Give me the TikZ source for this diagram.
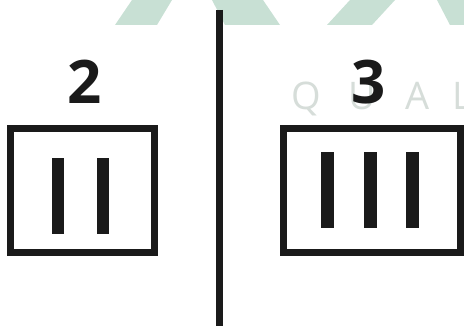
\documentclass[tikz,border=0pt]{standalone}
\usepackage{fontspec}
\setmainfont{Open Sans}
\definecolor{wmgreen}{RGB}{200,224,212}
\definecolor{wmgray}{RGB}{214,221,217}
\definecolor{ink}{RGB}{26,26,26}
\tikzset{
  frame/.style={draw=ink, line width=7pt},
  bar/.style={fill=ink, draw=none},
  digit/.style={font=\fontsize{60}{60}\selectfont\bfseries, text=ink, anchor=base, inner sep=0pt},
  wmletter/.style={font=\fontsize{38}{38}\selectfont, text=wmgray, anchor=base, inner sep=0pt},
  wmshape/.style={fill=wmgreen, draw=none}
}
\begin{document}
\begin{tikzpicture}[x=1pt,y=-1pt]
\useasboundingbox (0,0) rectangle (464,326);
\fill[white] (0,0) rectangle (464,326);
% watermark
\fill[wmshape] (115,25) -- (157,25) -- (172,0) -- (132,0) -- cycle;
\fill[wmshape] (225,25) -- (280,25) -- (263,0) -- (212,0) -- cycle;
\fill[wmshape] (327,25) -- (372,25) -- (395,0) -- (350,0) -- cycle;
\fill[wmshape] (450,25) -- (464,25) -- (464,0) -- (437,0) -- cycle;
\node[wmletter] (q) at (306,110) {Q};
\node[wmletter] (u) at (362,110) {U};
\node[wmletter] (a) at (417.5,110) {A};
\node[wmletter, anchor=base west] (l) at (452,110) {L};
% divider
\draw[ink, line width=7pt] (219.5,10) -- (219.5,326);
% left
\node[digit] (two) at (84.5,104) {2};
\draw[frame] (10.5,128.5) rectangle (154.5,252.5);
\fill[bar] (52,158) rectangle (64,234);
\fill[bar] (97,158) rectangle (109,234);
% right
\node[digit] (three) at (369,104) {3};
\draw[frame] (283.5,128.5) rectangle (460.5,252.5);
\fill[bar] (321,152) rectangle (334,228);
\fill[bar] (364,152) rectangle (377,228);
\fill[bar] (406,152) rectangle (419,228);
\end{tikzpicture}
\end{document}
